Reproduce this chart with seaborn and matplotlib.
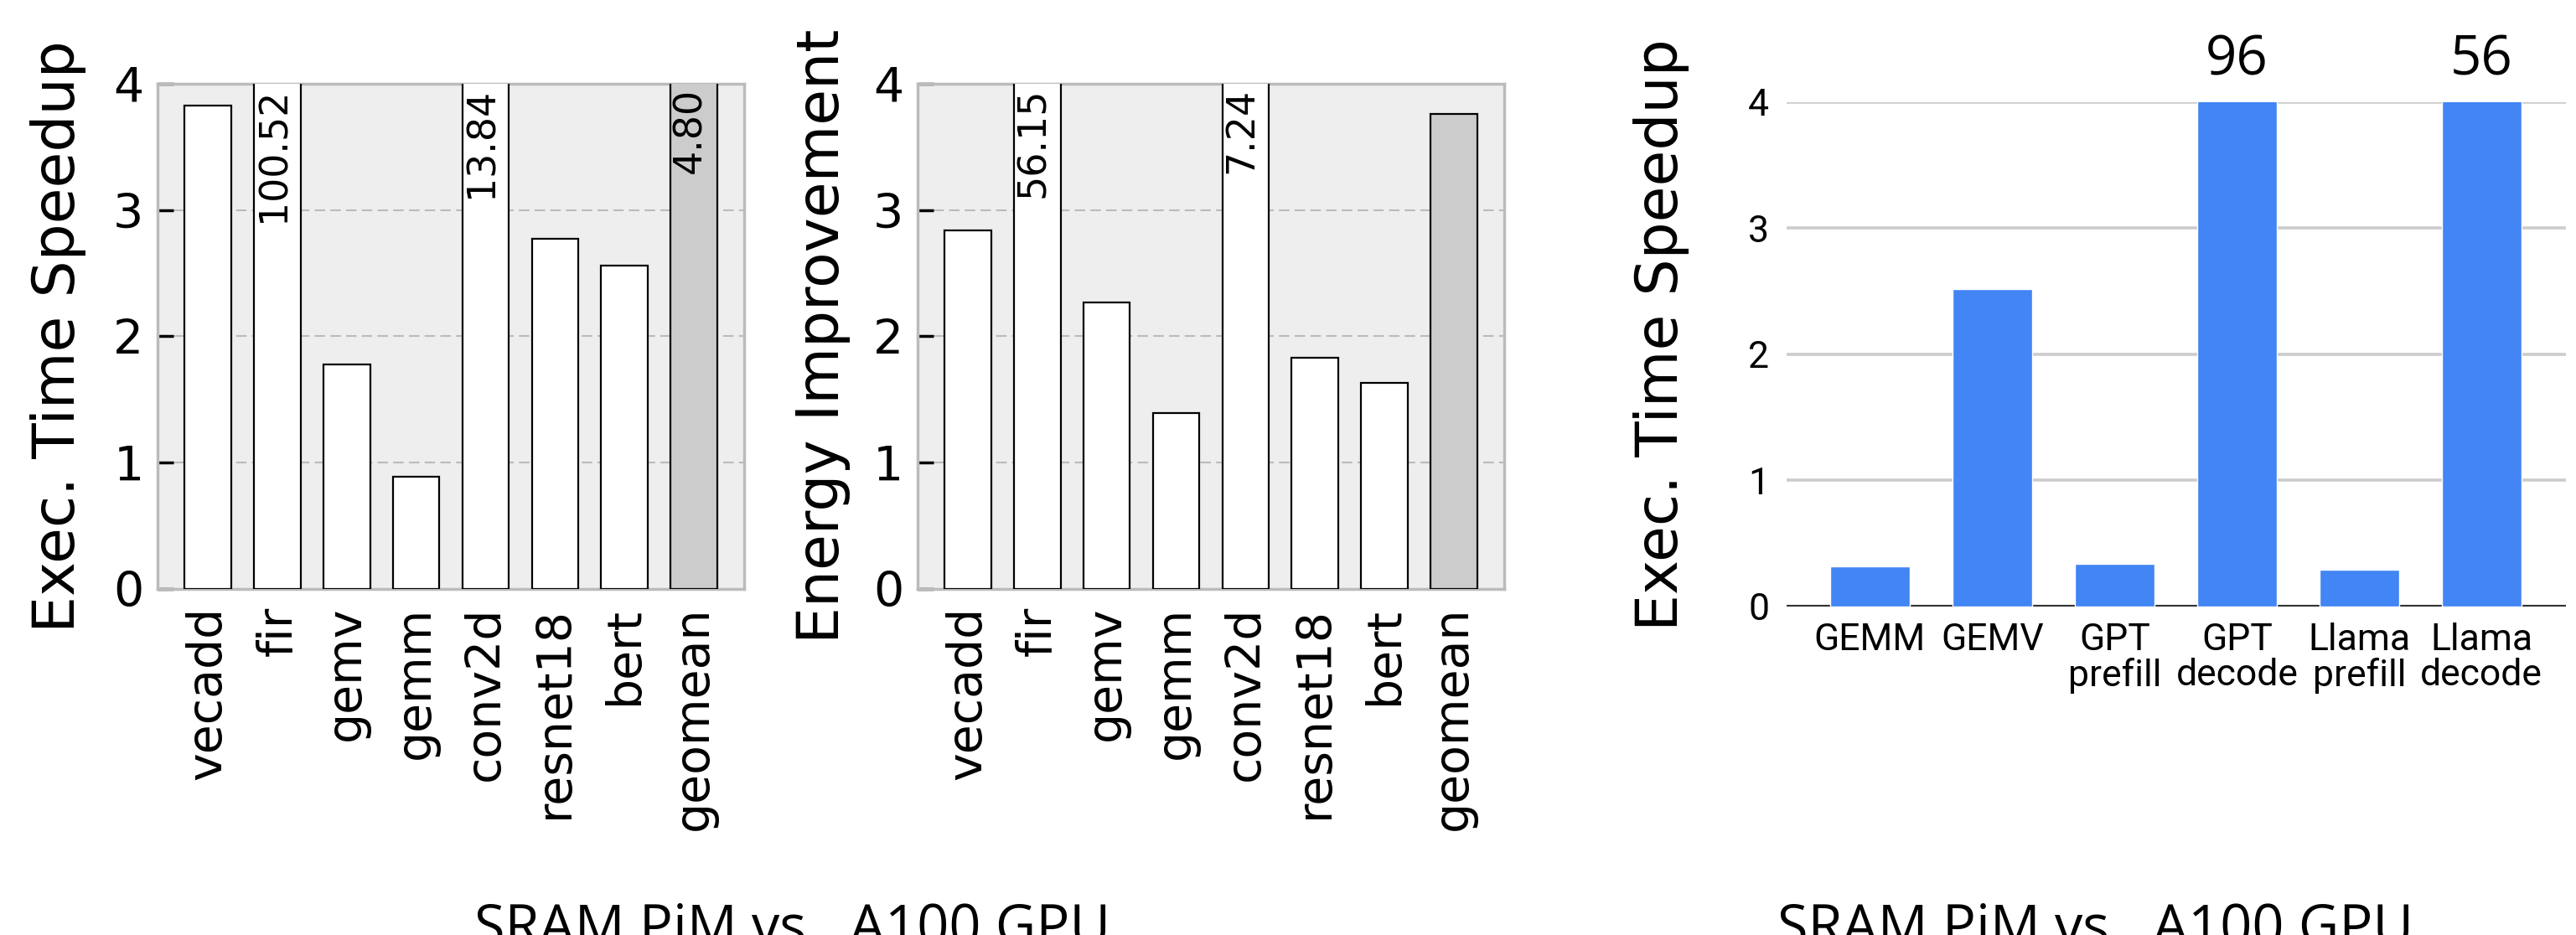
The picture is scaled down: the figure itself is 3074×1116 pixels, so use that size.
import matplotlib
matplotlib.use("Agg")
import matplotlib.pyplot as plt
import pandas as pd
import seaborn as sns
from matplotlib import font_manager

# workloads for the two left panels
kernels = ["vecadd", "fir", "gemv", "gemm", "conv2d", "resnet18", "bert", "geomean"]
speedup = [3.83, 100.52, 1.78, 0.89, 13.84, 2.77, 2.56, 4.80]
energy = [2.84, 56.15, 2.27, 1.39, 7.24, 1.83, 1.63, 3.76]

# LLM workloads for the right panel
llm_cats = ["GEMM", "GEMV", "GPT\nprefill", "GPT\ndecode", "Llama\nprefill", "Llama\ndecode"]
llm_speedup = [0.32, 2.52, 0.34, 96, 0.29, 56]

caption = "SRAM PiM vs.  A100 GPU"

sns.set_theme(style="white")
plt.rcParams["font.family"] = ["DejaVu Sans"]
for key in ["text.color", "axes.labelcolor", "xtick.color", "ytick.color"]:
    plt.rcParams[key] = "black"

names = {f.name for f in font_manager.fontManager.ttflist}
narrow = "Liberation Sans Narrow" if "Liberation Sans Narrow" in names else "Roboto"

fig = plt.figure(figsize=(30.74, 11.16), dpi=100)
ax1 = fig.add_axes([0.0612, 0.3701, 0.2277, 0.5403])
ax2 = fig.add_axes([0.3562, 0.3701, 0.2277, 0.5403])
ax3 = fig.add_axes([0.6936, 0.3513, 0.3025, 0.5394])

bar_colors = ["white"] * 7 + ["#cccccc"]


def kernel_panel(ax, vals, ylabel, label_x):
    df = pd.DataFrame({"kernel": kernels, "val": vals})
    sns.barplot(ax=ax, data=df, x="kernel", y="val", hue="kernel",
                palette=bar_colors, legend=False, saturation=1,
                edgecolor="black", linewidth=1.6, width=0.67, zorder=3)
    ax.set_facecolor("#eeeeee")
    ax.set_ylim(0, 4)
    ax.set_xlim(-0.725, 7.725)
    ax.set_yticks([0, 1, 2, 3, 4])
    ax.yaxis.grid(True, color="#bbbbbb", linestyle=(0, (6, 3)), linewidth=1.5, zorder=0)
    ax.set_axisbelow(True)
    for s in ax.spines.values():
        s.set_color("#bbbbbb")
        s.set_linewidth(2.5)
    ax.tick_params(axis="y", direction="in", length=14, width=2.5, color="black",
                   labelsize=41, pad=12, left=True)
    ax.tick_params(axis="x", length=0, labelsize=41, pad=15, rotation=90)
    ax.set_xlabel("")
    ax.set_ylabel(ylabel, fontsize=50)
    ax.yaxis.set_label_coords(label_x, 0.5)
    # values beyond the axis are written inside the clipped bar
    for i, v in enumerate(vals):
        if v > 4:
            ax.text(i - 0.05, 3.97, f"{v:.2f}", rotation=90, ha="center", va="top",
                    fontsize=33, zorder=5)


kernel_panel(ax1, speedup, "Exec. Time Speedup", -0.121)
kernel_panel(ax2, energy, "Energy Improvement", -0.114)

# right panel
df3 = pd.DataFrame({"cat": llm_cats, "val": llm_speedup})
sns.barplot(ax=ax3, data=df3, x="cat", y="val", color="#4285F4", saturation=1,
            width=0.65, zorder=3)
ax3.set_ylim(0, 4)
ax3.set_xlim(-0.68, 5.69)
ax3.set_yticks([0, 1, 2, 3, 4])
ax3.yaxis.grid(True, color="#cccccc", linewidth=2.6, zorder=0)
ax3.set_axisbelow(True)
for s in ax3.spines.values():
    s.set_visible(False)
ax3.axhline(0, color="#333333", linewidth=3, zorder=2)
ax3.tick_params(axis="both", length=0)
ax3.tick_params(axis="y", pad=15)
ax3.tick_params(axis="x", pad=14)
for lab in ax3.get_xticklabels() + ax3.get_yticklabels():
    lab.set_fontfamily(narrow)
    lab.set_fontsize(32)
for lab in ax3.get_xticklabels():
    lab.set_linespacing(1.0)
ax3.set_xlabel("")
ax3.set_ylabel("Exec. Time Speedup", fontsize=50)
ax3.yaxis.set_label_coords(-0.125, 0.538)
for i, v in enumerate(llm_speedup):
    if v > 4:
        ax3.text(i, 4.33, f"{v:g}", ha="center", va="center", fontsize=47,
                 family="Open Sans", clip_on=False)

# captions (partly cut off at the bottom edge, as in the original)
fig.text(0.3077, -0.0099, caption, ha="center", va="baseline", fontsize=48, family="Open Sans")
fig.text(0.8133, -0.0099, caption, ha="center", va="baseline", fontsize=48, family="Open Sans")

fig.savefig("out.png", dpi=100)
